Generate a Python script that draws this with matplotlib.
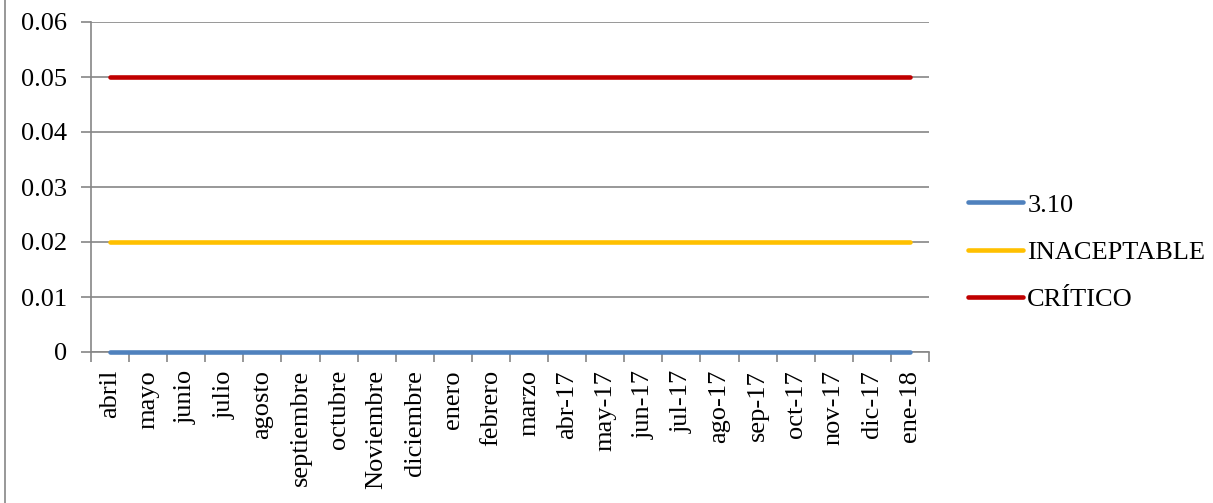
import matplotlib
matplotlib.use("Agg")
import matplotlib.pyplot as plt
from matplotlib.lines import Line2D

categories = ["abril", "mayo", "junio", "julio", "agosto", "septiembre", "octubre",
              "Noviembre", "diciembre", "enero", "febrero", "marzo", "abr-17", "may-17",
              "jun-17", "jul-17", "ago-17", "sep-17", "oct-17", "nov-17", "dic-17", "ene-18"]
serie_310 = [0.0] * 22
inaceptable = [0.02] * 22
critico = [0.05] * 22
yticks = [0, 0.01, 0.02, 0.03, 0.04, 0.05, 0.06]
ytick_labels = ["0", "0.01", "0.02", "0.03", "0.04", "0.05", "0.06"]

plt.rcParams['font.family'] = ['Liberation Serif', 'DejaVu Serif']
FS = 19
grid_c = "#868686"

fig = plt.figure(figsize=(12.13, 5.03), dpi=100)
ax = fig.add_axes([91/1213, 1-352/503, (929-91)/1213, (352-22)/503])

x = list(range(len(categories)))
lw = 3.3
ax.plot(x, serie_310, color="#4F81BD", lw=lw, solid_capstyle="round", label="3.10", zorder=4, clip_on=False)
ax.plot(x, inaceptable, color="#FFC000", lw=lw, solid_capstyle="round", label="INACEPTABLE", zorder=4, clip_on=False)
ax.plot(x, critico, color="#C00000", lw=lw, solid_capstyle="round", label="CRÍTICO", zorder=4, clip_on=False)

ax.set_xlim(-0.5, len(categories) - 0.5)
ax.set_ylim(0, 0.06)
ax.set_yticks(yticks)
ax.set_yticklabels(ytick_labels, fontsize=FS)
ax.set_xticks(x)
ax.set_xticklabels(categories, rotation=90, fontsize=FS, ha="center", va="top")
ax.set_xticks([i - 0.5 for i in range(len(categories) + 1)], minor=True)
ax.tick_params(axis="x", which="major", length=0, pad=13)
ax.tick_params(axis="x", which="minor", length=7, color=grid_c, width=1.2)
ax.tick_params(axis="y", length=7, color=grid_c, width=1.2, pad=10)

ax.yaxis.grid(True, color=grid_c, lw=1.2)
ax.set_axisbelow(True)
for s in ["top", "right"]:
    ax.spines[s].set_visible(False)
for s in ["left", "bottom"]:
    ax.spines[s].set_color(grid_c)
    ax.spines[s].set_linewidth(1.2)

leg = ax.legend(loc="center left", bbox_to_anchor=(968/1213, 1-252/503),
                bbox_transform=fig.transFigure, frameon=False, fontsize=FS,
                handlelength=2.1, handletextpad=0.15, labelspacing=0.9,
                borderpad=0, borderaxespad=0)

fig.add_artist(Line2D([5/1213, 5/1213], [0, 1], transform=fig.transFigure,
                      color=grid_c, lw=1.2))

fig.savefig("out.png", dpi=100)
